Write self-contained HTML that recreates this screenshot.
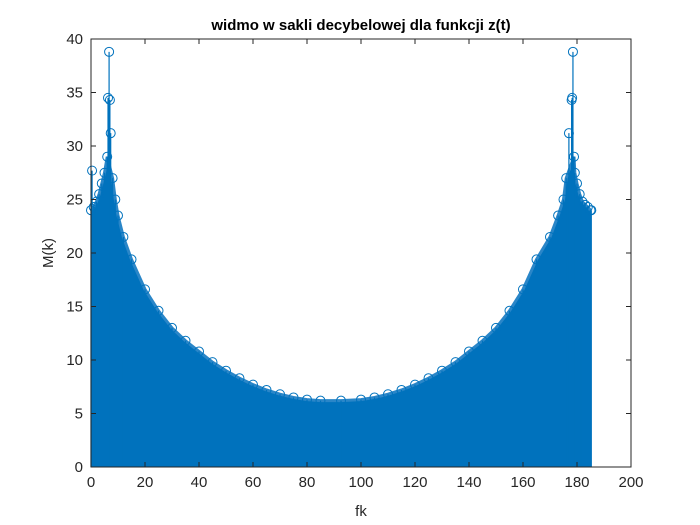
<!DOCTYPE html>
<html><head><meta charset="utf-8"><style>
body{margin:0;background:#fff;}
svg{display:block;font-family:"Liberation Sans",Arial,sans-serif;}
</style></head><body>
<svg id="chart" width="700" height="525">
<rect width="700" height="525" fill="#fff"/>
<rect x="91" y="39" width="540" height="428" fill="#fff"/>
<g id="marks"></g>
<g id="axes"></g>
<text x="361" y="30" text-anchor="middle" font-size="15" font-weight="bold" fill="#000">widmo w sakli decybelowej dla funkcji z(t)</text>
<text x="361" y="516" text-anchor="middle" font-size="15" fill="#262626">fk</text>
<text x="0" y="0" transform="translate(53,253) rotate(-90)" text-anchor="middle" font-size="15" fill="#262626">M(k)</text>
</svg>
<script>
const freqs = [0,0.4,1,2,3,4,5,6,6.3,6.7,7,7.3,8,9,10,12,15,20,25,30,35,40,45,50,55,60,65,70,75,80,85,92.6,100,105,110,115,120,125,130,135,140,145,150,155,160,165,170,173,175,176,177,178,178.2,178.5,178.9,179.2,180,181,182,183,184,185,185.3];
const values = [24,27.7,24.3,24.8,25.5,26.5,27.5,29,34.5,38.8,34.3,31.2,27,25,23.5,21.5,19.4,16.6,14.6,13,11.8,10.8,9.8,9,8.3,7.7,7.2,6.8,6.5,6.3,6.2,6.2,6.3,6.5,6.8,7.2,7.7,8.3,9,9.8,10.8,11.8,13,14.6,16.6,19.4,21.5,23.5,25,27,31.2,34.3,34.5,38.8,29,27.5,26.5,25.5,24.8,24.5,24.3,24,24];
const xTicks = [0,20,40,60,80,100,120,140,160,180,200];
const yTicks = [0,5,10,15,20,25,30,35,40];

const X0=91,X1=631,Y0=467,Y1=39;
const xs=v=>X0+(v-0)/200*(X1-X0);
const ys=v=>Y0-(v-0)/40*(Y0-Y1);
const NS='http://www.w3.org/2000/svg';
const marks=document.getElementById('marks');
const axes=document.getElementById('axes');
const C='#0072BD';

// filled stems area (envelope excluding isolated spikes)
const base=freqs.map((f,i)=>({f,v:values[i]}));
let env=base.filter(p=>p.v<30 && p.f!==0.4);
let d='M'+xs(env[0].f)+','+ys(0);
env.forEach(p=>{d+=' L'+xs(p.f)+','+ys(p.v);});
d+=' L'+xs(env[env.length-1].f)+','+ys(0)+' Z';
const area=document.createElementNS(NS,'path');
area.setAttribute('d',d);area.setAttribute('fill',C);


marks.appendChild(area);
const envl=document.createElementNS(NS,'polyline');
envl.setAttribute('points',env.map(p=>xs(p.f)+','+ys(p.v)).join(' '));
envl.setAttribute('fill','none');envl.setAttribute('stroke','#2a86c8');envl.setAttribute('stroke-width','3');


marks.appendChild(envl);

freqs.forEach((f,i)=>{
  const l=document.createElementNS(NS,'line');
  l.setAttribute('x1',xs(f));l.setAttribute('x2',xs(f));
  l.setAttribute('y1',ys(0));l.setAttribute('y2',ys(values[i]));
  l.setAttribute('stroke',C);l.setAttribute('stroke-width','1.2');
  
  
  marks.appendChild(l);
  const c=document.createElementNS(NS,'circle');
  c.setAttribute('cx',xs(f));c.setAttribute('cy',ys(values[i]));c.setAttribute('r','4.5');
  c.setAttribute('fill','none');c.setAttribute('stroke',C);c.setAttribute('stroke-width','1');
  
  
  marks.appendChild(c);
});

function mk(tag,attrs,name){const e=document.createElementNS(NS,tag);for(const k in attrs)e.setAttribute(k,attrs[k]);
  
  
  axes.appendChild(e);return e;}
mk('rect',{x:X0,y:Y1,width:X1-X0,height:Y0-Y1,fill:'none',stroke:'#262626','stroke-width':1},'axes-box');
xTicks.forEach(t=>{
  const x=xs(t);
  mk('line',{x1:x,x2:x,y1:Y0,y2:Y0-5,stroke:'#262626'},'x-tick');
  mk('line',{x1:x,x2:x,y1:Y1,y2:Y1+5,stroke:'#262626'},'x-tick-top');
  const tx=mk('text',{x:x,y:Y0+20,'text-anchor':'middle','font-size':15,fill:'#262626'},'x-tick-label');tx.textContent=t;
});
yTicks.forEach(t=>{
  const y=ys(t);
  mk('line',{x1:X0,x2:X0+5,y1:y,y2:y,stroke:'#262626'},'y-tick');
  mk('line',{x1:X1,x2:X1-5,y1:y,y2:y,stroke:'#262626'},'y-tick-right');
  const tx=mk('text',{x:X0-8,y:y+5,'text-anchor':'end','font-size':15,fill:'#262626'},'y-tick-label');tx.textContent=t;
});
</script>
</body></html>
